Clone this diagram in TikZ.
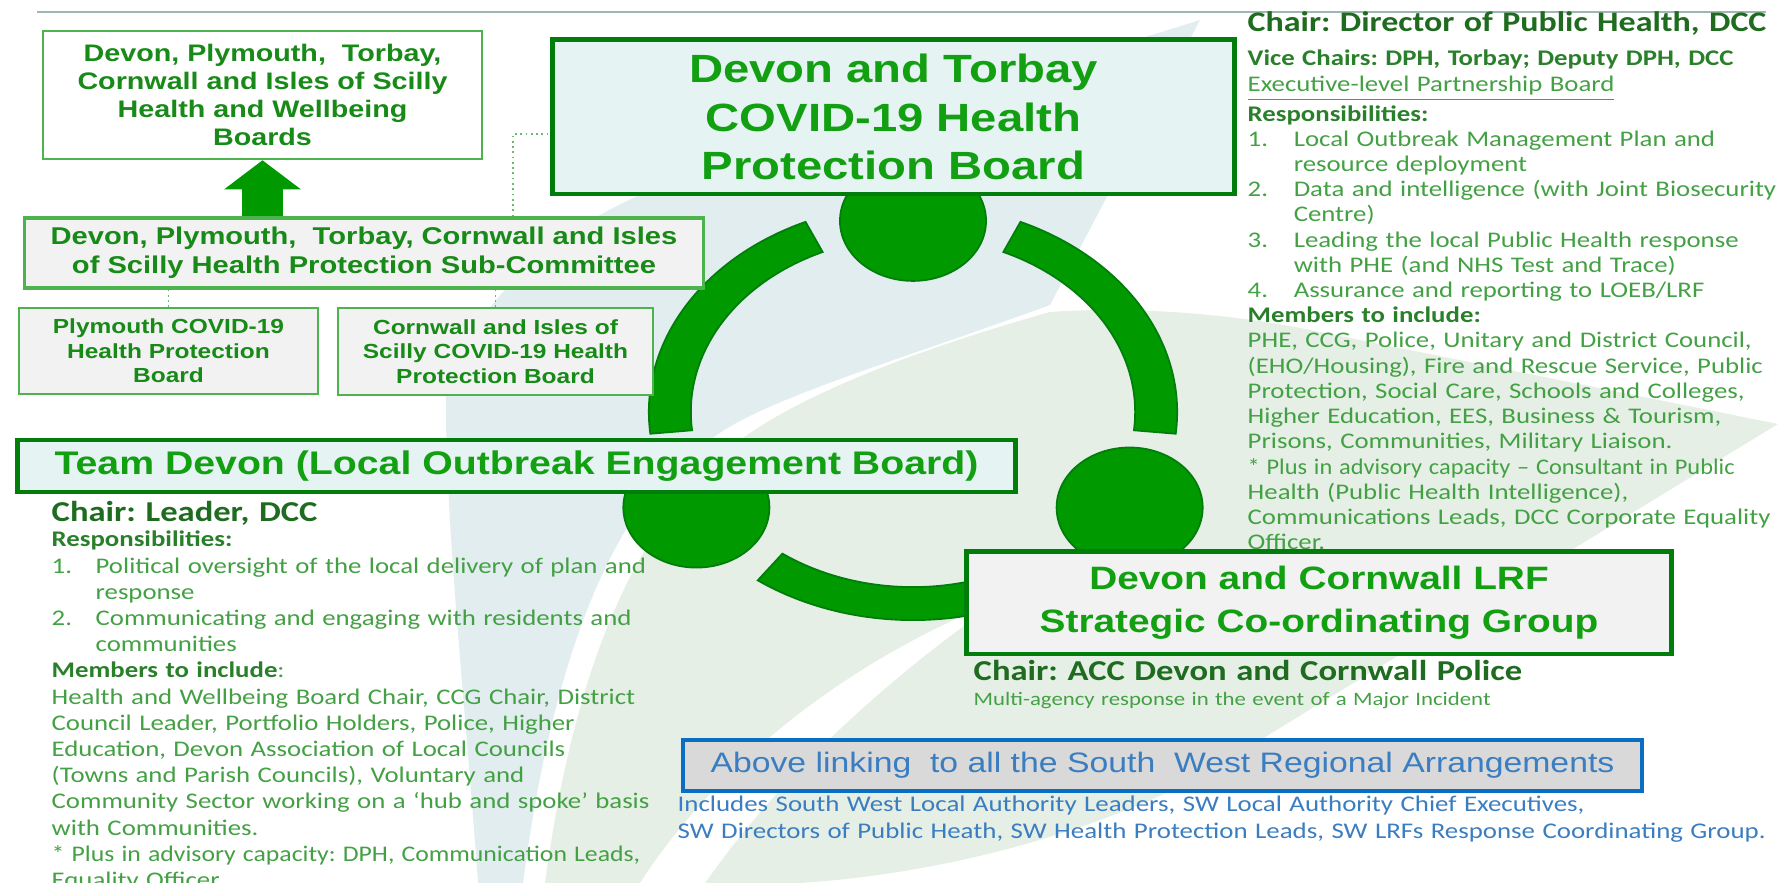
\documentclass[tikz,border=0pt]{standalone}
\usepackage{fontspec}
\usepackage{graphicx}
\usepackage{xcolor}
\usepackage{tikz}
\usetikzlibrary{positioning,arrows.meta,shapes.geometric}

\newfontfamily\boxfont{Liberation Sans}[FakeStretch=1.2]
\newfontfamily\notefont{Carlito}[FakeStretch=1.2]
\frenchspacing

\definecolor{ringgreen}{HTML}{009A00}
\definecolor{ringline}{HTML}{007D0B}
\definecolor{titlegreen}{HTML}{12A012}
\definecolor{titledark}{HTML}{178A17}
\definecolor{boxline}{HTML}{4DB34D}
\definecolor{hpbfill}{HTML}{E6F3F3}
\definecolor{greyfill}{HTML}{F2F2F2}
\definecolor{notegreen}{HTML}{44A044}
\definecolor{headgreen}{HTML}{2A7F2A}
\definecolor{chairgreen}{HTML}{1F6B1F}
\definecolor{linkgreen}{HTML}{6DB86D}
\definecolor{swblue}{HTML}{0A6EC2}
\definecolor{swtext}{HTML}{3A7DC0}
\definecolor{swfill}{HTML}{D9D9D9}
\definecolor{rulegrey}{HTML}{9DB7B5}
\definecolor{leafteal}{HTML}{E2EDF0}
\definecolor{leafgreen}{HTML}{E5EFE5}

\begin{document}
\begin{tikzpicture}[x=0.01cm, y=-0.01cm,
    lightbox/.style={draw=boxline, line width=0.7pt, align=center, inner sep=0pt, text=titledark},
    mainbox/.style={draw=ringline, line width=1.4pt, align=center, inner sep=0pt, text=titlegreen},
    dotlink/.style={draw=linkgreen, densely dotted, line width=0.5pt},
    ringpart/.style={fill=ringgreen, draw=ringline, line width=0.5pt},
    ringdot/.style={ellipse, fill=ringgreen, draw=ringline, line width=0.5pt, minimum width=1.46cm, minimum height=1.2cm, inner sep=0pt},
    notes/.style={anchor=base west, inner sep=0pt, align=left, text=notegreen}]
		\useasboundingbox (0,0) rectangle (1778,883);

		% faint leaves behind everything
		\fill[leafteal] (446,395) .. controls (470,300) and (560,230) .. (640,195) -- (1200,20) -- (1050,305)
			.. controls (900,360) and (760,400) .. (710,440) .. controls (640,480) and (560,600) .. (523,883)
			-- (478,883) .. controls (465,700) and (445,520) .. (446,395) -- cycle;
		\fill[leafgreen] (1050,312) .. controls (1150,305) and (1250,318) .. (1300,328) -- (1778,424)
			-- (1270,734) .. controls (1180,800) and (1000,870) .. (800,883) -- (545,883)
			.. controls (570,700) and (620,540) .. (730,448) .. controls (800,390) and (950,340) .. (1050,312) -- cycle;
		\fill[white] (640,883) .. controls (720,760) and (850,660) .. (1000,600)
			.. controls (870,690) and (770,790) .. (705,883) -- cycle;
		\draw[rulegrey, line width=0.6pt] (37,12) -- (1766,12);

		% ring of three arcs
		\begin{scope}[shift={(913,412)}]
			\foreach \a in {114,234,354}
				\filldraw[ringpart] (\a:2.64cm and 2.08cm) arc[start angle=\a, delta angle=72, x radius=2.64cm, y radius=2.08cm]
					-- ({\a+72}:2.22cm and 1.75cm) arc[start angle=\a+72, delta angle=-72, x radius=2.22cm, y radius=1.75cm] -- cycle;
			\node[ringdot] (hpbdot) at (90:2.5cm and 1.91cm) {};
			\node[ringdot] (loebdot) at (210:2.5cm and 1.91cm) {};
			\node[ringdot] (lrfdot) at (330:2.5cm and 1.91cm) {};
		\end{scope}

		% boxes
		\node[lightbox, fill=white, minimum width=4.39cm, minimum height=1.28cm,
			font=\boxfont\bfseries\fontsize{6.8}{8}\selectfont] (hwb) at (262.5,95)
			{Devon, Plymouth,\ \ Torbay,\\Cornwall and Isles of Scilly\\Health and Wellbeing\\Boards};
		\node[lightbox, fill=greyfill, line width=0.9pt, minimum width=6.78cm, minimum height=0.7cm,
			font=\boxfont\bfseries\fontsize{6.9}{8.25}\selectfont] (subcom) at (364,253)
			{Devon, Plymouth,\ \ Torbay, Cornwall and Isles\\of Scilly Health Protection Sub-Committee};
		\node[lightbox, fill=greyfill, minimum width=2.99cm, minimum height=0.86cm,
			font=\boxfont\bfseries\fontsize{5.8}{7}\selectfont] (plymouth) at (168.5,351)
			{Plymouth COVID-19\\Health Protection\\Board};
		\node[lightbox, fill=greyfill, minimum width=3.15cm, minimum height=0.87cm,
			font=\boxfont\bfseries\fontsize{5.8}{7}\selectfont] (cornwall) at (495.5,351.5)
			{Cornwall and Isles of\\Scilly COVID-19 Health\\Protection Board};
		\node[mainbox, fill=hpbfill, minimum width=6.81cm, minimum height=1.54cm,
			font=\boxfont\bfseries\fontsize{11.2}{13.7}\selectfont] (hpb) at (893.5,117)
			{Devon and Torbay\\COVID-19 Health\\Protection Board};
		\node[mainbox, fill=hpbfill, minimum width=9.97cm, minimum height=0.52cm,
			font=\boxfont\bfseries\fontsize{9.3}{11}\selectfont] (loeb) at (516.5,466)
			{Team Devon (Local Outbreak Engagement Board)};
		\node[mainbox, fill=greyfill, minimum width=7.04cm, minimum height=1.02cm,
			font=\boxfont\bfseries\fontsize{9.2}{12.2}\selectfont] (lrf) at (1319,603)
			{Devon and Cornwall LRF\\Strategic Co-ordinating Group};
		\node[draw=swblue, fill=swfill, line width=1.1pt, inner sep=0pt, text=swtext,
			minimum width=9.59cm, minimum height=0.51cm,
			font=\boxfont\fontsize{8}{9}\selectfont] (swlink) at (1162.5,765.5)
			{Above linking\ \ to all the South\ \ West Regional Arrangements};

		% links between the boxes
		\coordinate (hpblink) at (513,134);
		\draw[ringgreen, line width=0.4cm, -{Triangle[length=0.29cm, width=0.75cm]}] (subcom.north -| hwb.south) -- (hwb.south);
		\draw[dotlink] (subcom.north -| hpblink) |- (hpb.west |- hpblink);
		\draw[dotlink] (subcom.south -| plymouth.north) -- (plymouth.north);
		\draw[dotlink] (subcom.south -| cornwall.north) -- (cornwall.north);

		% notes
		\node[notes, text width=6cm, text=chairgreen, font=\notefont\bfseries\fontsize{8.05}{10}\selectfont] (hpbchair) at (1247,32)
			{Chair: Director of Public Health, DCC};
		\node[notes, text width=6cm, font=\notefont\fontsize{6.35}{7.17}\selectfont] (hpbinfo) at (1247,66) {%
			\textcolor{headgreen}{\textbf{Vice Chairs: DPH, Torbay; Deputy DPH, DCC}}\\
			\underline{Executive-level Partnership Board}\\
			\textcolor{headgreen}{\textbf{Responsibilities:}}\\
			\makebox[13.1pt][l]{1.}Local Outbreak Management Plan and\\
			\hspace*{13.1pt}resource deployment\\
			\makebox[13.1pt][l]{2.}Data and intelligence (with Joint Biosecurity\\
			\hspace*{13.1pt}Centre)\\
			\makebox[13.1pt][l]{3.}Leading the local Public Health response\\
			\hspace*{13.1pt}with PHE (and NHS Test and Trace)\\
			\makebox[13.1pt][l]{4.}Assurance and reporting to LOEB/LRF\\
			\textcolor{headgreen}{\textbf{Members to include:}}\\
			PHE, CCG, Police, Unitary and District Council,\\
			(EHO/Housing), Fire and Rescue Service, Public\\
			Protection, Social Care, Schools and Colleges,\\
			Higher Education, EES, Business \& Tourism,\\
			Prisons, Communities, Military Liaison.\\
			\scalebox{0.91}[1]{* Plus in advisory capacity – Consultant in Public}\\
			Health (Public Health Intelligence),\\
			Communications Leads, DCC Corporate Equality\\
			Officer.};

		\node[notes, text width=6cm, text=chairgreen, font=\notefont\bfseries\fontsize{8.2}{10}\selectfont] (loebchair) at (51,522)
			{Chair: Leader, DCC};
		\node[notes, text width=6.5cm, font=\notefont\fontsize{6.35}{7.45}\selectfont] (loebinfo) at (51,547) {%
			\textcolor{headgreen}{\textbf{Responsibilities:}}\\
			\makebox[12.5pt][l]{1.}Political oversight of the local delivery of plan and\\
			\hspace*{12.5pt}response\\
			\makebox[12.5pt][l]{2.}Communicating and engaging with residents and\\
			\hspace*{12.5pt}communities\\
			\textcolor{headgreen}{\textbf{Members to include}}:\\
			Health and Wellbeing Board Chair, CCG Chair, District\\
			Council Leader, Portfolio Holders, Police, Higher\\
			Education, Devon Association of Local Councils\\
			(Towns and Parish Councils), Voluntary and\\
			Community Sector working on a ‘hub and spoke’ basis\\
			with Communities.\\
			\scalebox{0.96}[1]{* Plus in advisory capacity: DPH, Communication Leads,}\\
			Equality Officer.};

		\node[notes, text width=7cm, text=chairgreen, font=\notefont\bfseries\fontsize{8.2}{10}\selectfont] (lrfchair) at (973,681)
			{Chair: ACC Devon and Cornwall Police};
		\node[notes, text width=7cm, font=\notefont\fontsize{5.4}{7}\selectfont] (lrfinfo) at (973,706)
			{Multi-agency response in the event of a Major Incident};

		\node[notes, text width=11cm, text=swtext, font=\notefont\fontsize{6.37}{7.4}\selectfont] (swinfo) at (677,812) {%
			Includes South West Local Authority Leaders, SW Local Authority Chief Executives,\\
			SW Directors of Public Heath, SW Health Protection Leads, SW LRFs Response Coordinating Group.};
	\end{tikzpicture}
\end{document}
